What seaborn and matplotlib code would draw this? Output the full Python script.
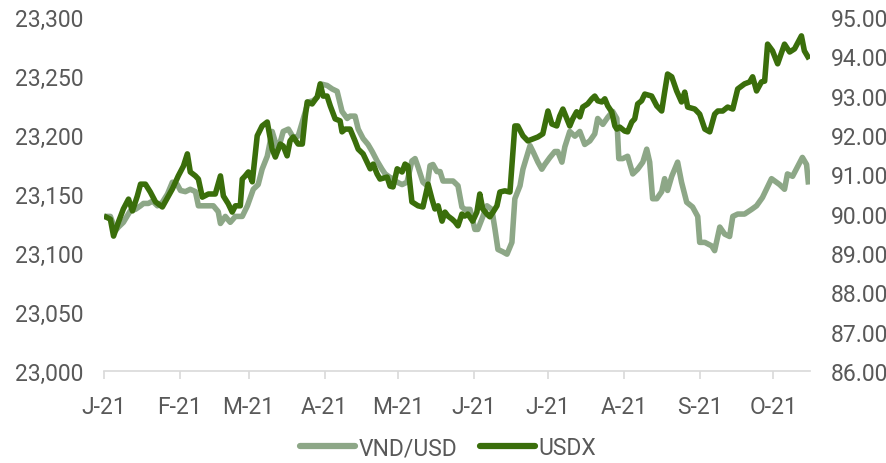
import matplotlib
matplotlib.use("Agg")
import matplotlib.pyplot as plt
import seaborn as sns
import pandas as pd
from matplotlib.lines import Line2D

# ---------------- data ----------------
start = pd.Timestamp("2021-01-01")

# VND/USD (left axis) : days since 1 Jan 2021 and rate
vnd_days = [0, 2.6, 4.7, 5.9, 7.9, 10.8, 12.8, 14.9, 16.1, 18.1, 19.8, 21.8, 23.8, 25.9, 27.9,
            29.9, 31.2, 33.2, 35.2, 37.3, 38.5, 44.6, 46.6, 47.5, 49.5, 51.5, 53.6, 56.4, 58.5,
            60.9, 62.9, 64.5, 66.6, 68.6, 69.9, 71.1, 73.1, 75.2, 77.2, 79.2, 81.3, 83.3, 85.3,
            87.0, 89.0, 91.0, 93.1, 95.1, 97.1, 99.2, 100.4, 102.4, 103.7, 105.7, 107.7, 109.4,
            111.4, 113.4, 114.7, 116.7, 117.9, 119.6, 121.6, 123.6, 125.6, 126.9, 128.1, 130.1,
            131.8, 133.0, 134.2, 135.8, 137.1, 138.3, 140.3, 142.4, 144.4, 146.0, 147.2, 149.3,
            151.3, 152.5, 154.2, 156.2, 158.2, 159.5, 160.7, 162.7, 164.4, 166.4, 167.6, 169.7,
            170.9, 172.5, 173.8, 175.0, 177.0, 178.6, 179.8, 181.9, 183.9, 185.1, 186.8, 188.0,
            190.0, 192.1, 194.1, 196.1, 198.2, 200.2, 201.4, 203.5, 205.5, 207.5, 209.2, 210.0,
            211.6, 213.6, 215.7, 217.7, 219.8, 221.4, 222.6, 223.8, 225.5, 227.5, 228.7, 229.9,
            231.6, 232.8, 234.0, 235.6, 237.7, 240.1, 242.2, 243.0, 245.1, 247.9, 249.1, 251.2,
            253.2, 255.2, 256.5, 258.5, 261.3, 264.2, 266.2, 268.6, 272.3, 275.6, 277.6, 278.8,
            280.9, 282.9, 284.9, 286.6, 287.4]
vnd_vals = [23131, 23131, 23119, 23122, 23126, 23136, 23137, 23140, 23142, 23142, 23144, 23140,
            23143, 23150, 23160, 23158, 23153, 23152, 23154, 23152, 23140, 23140, 23135, 23125,
            23131, 23126, 23131, 23131, 23140, 23154, 23158, 23171, 23182, 23203, 23194, 23188,
            23203, 23205, 23198, 23199, 23214, 23228, 23229, 23232, 23243, 23242, 23239, 23237,
            23220, 23214, 23216, 23216, 23205, 23197, 23192, 23186, 23178, 23171, 23167, 23164,
            23163, 23160, 23158, 23160, 23178, 23180, 23173, 23160, 23157, 23174, 23175, 23169,
            23169, 23161, 23161, 23161, 23157, 23139, 23137, 23137, 23120, 23120, 23129, 23140,
            23137, 23120, 23103, 23101, 23099, 23109, 23146, 23157, 23171, 23182, 23191, 23186,
            23177, 23171, 23175, 23181, 23186, 23186, 23177, 23190, 23203, 23199, 23203, 23192,
            23195, 23201, 23214, 23209, 23215, 23220, 23214, 23180, 23180, 23182, 23167, 23171,
            23177, 23188, 23177, 23146, 23146, 23152, 23163, 23153, 23165, 23171, 23177, 23160,
            23143, 23139, 23131, 23109, 23109, 23106, 23102, 23122, 23116, 23114, 23131, 23133,
            23133, 23137, 23140, 23147, 23163, 23158, 23154, 23167, 23165, 23173, 23181, 23175,
            23158]

# USDX (right axis)
usdx_days = [0, 2.6, 3.9, 5.9, 7.9, 10.0, 11.6, 13.6, 14.9, 16.9, 18.9, 21.0, 23.8, 26.3, 27.9,
             30.3, 32.4, 34.0, 35.2, 37.3, 38.5, 40.1, 42.6, 45.4, 47.5, 48.7, 50.7, 52.3, 53.6,
             55.6, 56.4, 57.6, 58.9, 60.5, 62.5, 64.5, 66.6, 68.6, 69.9, 71.9, 73.1, 74.7, 75.9,
             77.2, 79.2, 80.9, 82.1, 82.9, 84.9, 87.0, 88.2, 89.4, 91.0, 92.3, 94.3, 96.3, 97.1,
             98.4, 100.4, 102.4, 103.7, 105.7, 107.3, 108.6, 109.8, 111.4, 112.6, 115.5, 116.7,
             117.9, 119.6, 121.6, 122.8, 124.0, 125.6, 128.1, 130.1, 132.2, 133.8, 135.0, 136.3,
             137.9, 139.1, 140.3, 142.0, 143.2, 144.4, 146.0, 147.2, 148.4, 150.4, 152.1, 153.3,
             154.5, 156.2, 157.4, 158.7, 160.3, 161.5, 163.5, 165.6, 167.6, 168.8, 170.9, 172.9,
             174.9, 177.0, 179.0, 181.1, 182.7, 184.7, 185.9, 187.2, 188.8, 190.0, 191.2, 192.8,
             194.1, 195.3, 197.3, 199.0, 200.2, 201.4, 203.1, 204.3, 205.5, 207.1, 208.4, 209.2,
             210.4, 212.4, 213.6, 215.3, 216.5, 217.7, 219.3, 220.6, 223.4, 225.5, 227.5, 228.7,
             229.9, 231.6, 233.6, 235.6, 236.9, 238.1, 241.0, 243.0, 245.1, 247.1, 249.1, 250.4,
             252.4, 254.4, 256.5, 258.5, 261.3, 263.4, 264.6, 266.2, 268.2, 269.5, 270.7, 272.7,
             274.8, 277.6, 279.7, 281.7, 284.5, 285.7, 287.7]
usdx_vals = [89.94, 89.86, 89.43, 89.79, 90.12, 90.37, 90.07, 90.45, 90.75, 90.75, 90.55, 90.30,
             90.17, 90.45, 90.63, 90.96, 91.21, 91.52, 91.06, 90.96, 90.88, 90.42, 90.50, 90.50,
             90.96, 90.45, 90.25, 90.04, 90.20, 90.20, 90.88, 90.96, 91.06, 90.81, 91.98, 92.23,
             92.33, 91.64, 91.44, 91.77, 91.72, 91.47, 91.85, 91.95, 91.77, 91.77, 92.48, 92.84,
             92.79, 92.97, 93.30, 92.99, 92.99, 92.74, 92.41, 92.36, 92.08, 92.15, 92.15, 91.85,
             91.64, 91.52, 91.31, 91.14, 91.26, 91.01, 90.88, 90.93, 90.70, 90.68, 91.14, 91.06,
             91.26, 91.21, 90.30, 90.20, 90.17, 90.75, 90.37, 90.12, 90.20, 89.81, 90.04, 89.94,
             89.86, 89.79, 89.69, 89.99, 89.94, 89.99, 89.81, 90.04, 90.50, 90.12, 89.99, 89.92,
             90.04, 90.20, 90.55, 90.58, 90.55, 92.23, 92.23, 91.98, 91.85, 91.90, 91.95, 92.03,
             92.61, 92.28, 92.23, 92.48, 92.66, 92.41, 92.23, 92.41, 92.59, 92.46, 92.71, 92.79,
             92.92, 92.99, 92.87, 92.84, 92.92, 92.74, 92.59, 92.23, 92.15, 92.20, 92.10, 92.08,
             92.33, 92.41, 92.79, 92.87, 93.04, 92.99, 92.74, 92.61, 93.09, 93.55, 93.48, 93.12,
             92.84, 93.09, 92.71, 92.66, 92.53, 92.15, 92.08, 92.53, 92.61, 92.61, 92.71, 92.66,
             93.17, 93.30, 93.35, 93.48, 93.12, 93.35, 93.37, 94.31, 94.14, 93.81, 94.31, 94.11,
             94.19, 94.52, 94.14, 93.93]

month_ticks = ["2021-01-01", "2021-02-01", "2021-03-01", "2021-04-01", "2021-05-01",
               "2021-06-01", "2021-07-01", "2021-08-01", "2021-09-01", "2021-10-01"]
month_labels = ["J-21", "F-21", "M-21", "A-21", "M-21", "J-21", "J-21", "A-21", "S-21", "O-21"]
left_ticks = [23000, 23050, 23100, 23150, 23200, 23250, 23300]
right_ticks = [86, 87, 88, 89, 90, 91, 92, 93, 94, 95]
series_names = ["VND/USD", "USDX"]

# ---------------- style ----------------
sns.set_theme(style="white")
plt.rcParams["font.family"] = ["Roboto", "DejaVu Sans"]
TXT = "#595959"
C_LIGHT = "#8DA787"
C_DARK = "#3A6E0B"
FS = 16.5

vnd = pd.DataFrame({"date": start + pd.to_timedelta(vnd_days, unit="D"), "val": vnd_vals})
usd = pd.DataFrame({"date": start + pd.to_timedelta(usdx_days, unit="D"), "val": usdx_vals})

fig = plt.figure(figsize=(8.87, 4.64), dpi=100)
ax = fig.add_axes([104 / 887, 1 - 372 / 464, (810 - 104) / 887, (372 - 18) / 464])
ax2 = ax.twinx()

sns.lineplot(data=vnd, x="date", y="val", ax=ax, color=C_LIGHT, linewidth=4,
             legend=False, solid_joinstyle="round", solid_capstyle="butt")
sns.lineplot(data=usd, x="date", y="val", ax=ax2, color=C_DARK, linewidth=4,
             legend=False, solid_joinstyle="round", solid_capstyle="butt")

ax.set_xlim(start, start + pd.Timedelta(days=288))
ax.set_ylim(23000, 23300)
ax2.set_ylim(86, 95)

ax.set_xticks(pd.to_datetime(month_ticks))
ax.set_xticklabels(month_labels)
ax.set_yticks(left_ticks)
ax.set_yticklabels([f"{v:,}" for v in left_ticks])
ax2.set_yticks(right_ticks)
ax2.set_yticklabels([f"{v:.2f}" for v in right_ticks])

for a in (ax, ax2):
    a.set_xlabel("")
    a.set_ylabel("")
    a.grid(False)
    for s in ("left", "right", "top", "bottom"):
        a.spines[s].set_visible(False)

ax.spines["bottom"].set_visible(True)
ax.spines["bottom"].set_color("#D9D9D9")
ax.spines["bottom"].set_linewidth(1.2)

ax.tick_params(axis="x", which="major", bottom=True, length=6, width=1.2,
               color="#D9D9D9", labelsize=FS, labelcolor=TXT, pad=11)
ax.tick_params(axis="y", left=False, labelsize=FS, labelcolor=TXT, pad=9)
ax2.tick_params(axis="y", right=False, labelsize=FS, labelcolor=TXT, pad=9)

handles = [Line2D([0], [0], color=C_LIGHT, lw=4.5, solid_capstyle="round"),
           Line2D([0], [0], color=C_DARK, lw=4.5, solid_capstyle="round")]
fig.legend(handles, series_names, loc="center", bbox_to_anchor=(0.505, 0.033), ncol=2,
           frameon=False, fontsize=FS, labelcolor=TXT, handlelength=2.4,
           handletextpad=0.15, columnspacing=1.0)

fig.savefig("out.png", dpi=100, facecolor="white")
